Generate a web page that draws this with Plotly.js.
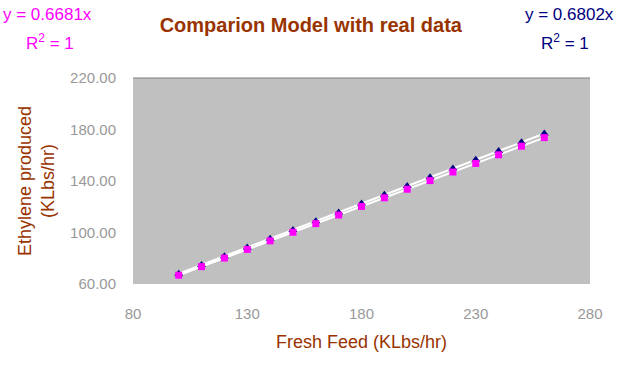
<!DOCTYPE html>
<html><head><meta charset="utf-8">
<script src="https://cdn.plot.ly/plotly-3.0.1.min.js"></script>
<style>html,body{margin:0;padding:0;background:#fff;}#chart{width:633px;height:385px;}</style>
</head><body><div id="chart"></div>
<script>
// Fresh feed (KLbs/hr)
const freshFeed = [100,110,120,130,140,150,160,170,180,190,200,210,220,230,240,250,260];
// Model ethylene (pink squares)
const modelEthylene = [66.81,73.49,80.17,86.85,93.53,100.22,106.90,113.58,120.26,126.94,133.62,140.30,146.98,153.66,160.34,167.02,173.71];
// Real ethylene (navy triangles)
const realEthylene = [68.02,74.82,81.62,88.43,95.23,102.03,108.83,115.63,122.44,129.24,136.04,142.84,149.64,156.45,163.25,170.05,176.85];
const xTicks = [80,130,180,230,280];
const yTicks = [60,100,140,180,220];
const modelSlope = 0.6681, realSlope = 0.6802;

const font = "Liberation Sans, Arial, sans-serif";
const brown = "#993300";
const xLine = [freshFeed[0], freshFeed[freshFeed.length-1]];

const data = [
  {x: xLine, y: xLine.map(v => v*realSlope), mode:'lines', line:{color:'#ffffff', width:2}, hoverinfo:'skip', showlegend:false},
  {x: xLine, y: xLine.map(v => v*modelSlope), mode:'lines', line:{color:'#ffffff', width:2}, hoverinfo:'skip', showlegend:false},
  {x: freshFeed, y: realEthylene, mode:'markers', marker:{symbol:'triangle-up', size:8, color:'#000080'}, showlegend:false},
  {x: freshFeed, y: modelEthylene, mode:'markers', marker:{symbol:'square', size:7, color:'#ff00ff'}, showlegend:false}
];

const layout = {
  width:633, height:385,
  margin:{l:133, r:43, t:78, b:101},
  paper_bgcolor:'#ffffff', plot_bgcolor:'#c0c0c0',
  showlegend:false,
  title:{text:'<b>Comparion Model with real data</b>', font:{family:font, size:20, color:brown}, x:0.491, xanchor:'center', y:0.935, yanchor:'middle'},
  xaxis:{range:[80,280], tickvals:xTicks, ticktext:xTicks.map(String), showgrid:false, zeroline:false, showline:false,
    tickfont:{family:font, size:15, color:'#999999'}, ticks:'outside', ticklen:16, tickcolor:'rgba(0,0,0,0)',
    title:{text:'Fresh Feed (KLbs/hr)', font:{family:font, size:18, color:brown}, standoff:14}},
  yaxis:{range:[60,220], tickvals:yTicks, ticktext:yTicks.map(v=>v.toFixed(2)), showgrid:false, zeroline:false, showline:false,
    tickfont:{family:font, size:15, color:'#999999'}, ticks:'outside', ticklen:13, tickcolor:'rgba(0,0,0,0)',
    title:{text:'Ethylene produced<br>(KLbs/hr)', font:{family:font, size:18, color:brown}, standoff:10}},
  shapes:[{type:'line', xref:'paper', yref:'paper', x0:0, x1:1, y0:1, y1:1, line:{color:'#808080', width:1}}],
  annotations:[
    {xref:'paper', yref:'paper', x:-0.188, y:1.31, text:'y = 0.6681x', showarrow:false, font:{family:font, size:17, color:'#ff00ff'}, xanchor:'center', yanchor:'middle'},
    {xref:'paper', yref:'paper', x:-0.182, y:1.175, text:'R<sup>2</sup> = 1', showarrow:false, font:{family:font, size:17, color:'#ff00ff'}, xanchor:'center', yanchor:'middle'},
    {xref:'paper', yref:'paper', x:0.956, y:1.31, text:'y = 0.6802x', showarrow:false, font:{family:font, size:17, color:'#000080'}, xanchor:'center', yanchor:'middle'},
    {xref:'paper', yref:'paper', x:0.945, y:1.175, text:'R<sup>2</sup> = 1', showarrow:false, font:{family:font, size:17, color:'#000080'}, xanchor:'center', yanchor:'middle'}
  ]
};
Plotly.newPlot('chart', data, layout, {displayModeBar:false, staticPlot:true});
</script></body></html>
